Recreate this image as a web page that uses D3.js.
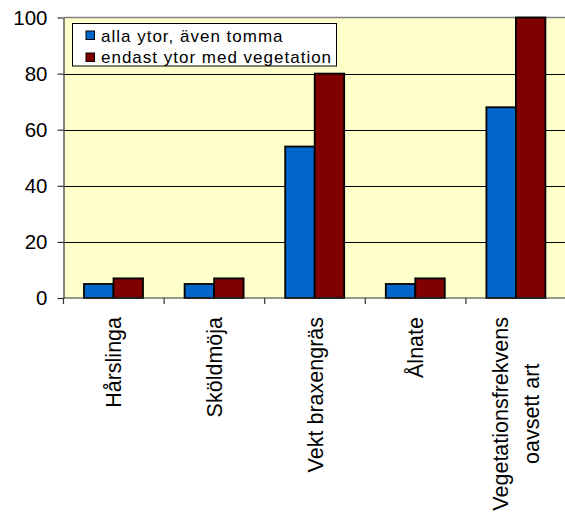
<!DOCTYPE html>
<html>
<head>
<meta charset="utf-8">
<script src="https://cdn.jsdelivr.net/npm/d3@7"></script>
<style>
  html, body { margin: 0; padding: 0; background: #ffffff; }
  svg { display: block; font-family: Arial, "Liberation Sans", sans-serif; }
</style>
</head>
<body>
<svg id="chart" width="565" height="519"></svg>
<script>
// ---- Data ----
const categories = [
  ["Hårslinga"],
  ["Sköldmöja"],
  ["Vekt braxengräs"],
  ["Ålnate"],
  ["Vegetationsfrekvens", "oavsett art"]
];
const seriesNames = ["alla ytor, även tomma", "endast ytor med vegetation"];
const allaYtor = [5, 5, 54, 5, 68];
const endastVeg = [7, 7, 80, 7, 100];
const yTicks = [0, 20, 40, 60, 80, 100];
const colors = ["#0066CC", "#800000"];

// ---- Layout ----
const svg = d3.select("#chart");
const pLeft = 63.5, pRight = 566.5, pTop = 17.5, pBottom = 298;

const catKeys = categories.map(c => c.join(" "));
const x0 = d3.scaleBand().domain(catKeys).range([pLeft, pRight]).padding(0);
const x1 = d3.scaleBand().domain(seriesNames).range([20.5, 79.5]).padding(0);
const y = d3.scaleLinear().domain([0, 100]).range([pBottom, pTop]);

// plot background
svg.append("rect")
  .attr("x", pLeft).attr("y", pTop)
  .attr("width", pRight - pLeft).attr("height", pBottom - pTop)
  .attr("fill", "#FFFFCC");

// gridlines
svg.append("g")
  .selectAll("line")
  .data(yTicks.filter(t => t > 0 && t < 100))
  .join("line")
  .attr("x1", pLeft).attr("x2", pRight)
  .attr("y1", d => Math.round(y(d)) + 0.5).attr("y2", d => Math.round(y(d)) + 0.5)
  .attr("stroke", "#000").attr("stroke-width", 1);

// top border
svg.append("line")
  .attr("x1", pLeft).attr("x2", pRight)
  .attr("y1", pTop).attr("y2", pTop)
  .attr("stroke", "#808080").attr("stroke-width", 1.5);

// bars
const rows = catKeys.map((k, i) => ({ key: k, values: [allaYtor[i], endastVeg[i]] }));
const groups = svg.append("g").selectAll("g")
  .data(rows).join("g")
  .attr("transform", d => `translate(${x0(d.key)},0)`);
groups.selectAll("rect")
  .data(d => d.values.map((v, j) => ({ name: seriesNames[j], v, j })))
  .join("rect")
  .attr("x", d => x1(d.name))
  .attr("width", x1.bandwidth())
  .attr("y", d => y(d.v))
  .attr("height", d => y(0) - y(d.v))
  .attr("fill", d => colors[d.j])
  .attr("stroke", "#000")
  .attr("stroke-width", 1.8);

// y axis
const yAxis = d3.axisLeft(y).tickValues(yTicks).tickSize(6).tickSizeOuter(0).tickPadding(10);
const gy = svg.append("g").attr("transform", `translate(${pLeft},0)`).call(yAxis);
gy.select(".domain").attr("stroke", "#333").attr("stroke-width", 1.2);
gy.selectAll(".tick line").attr("stroke", "#333").attr("stroke-width", 1.2);
gy.selectAll(".tick text")
  .attr("font-size", "20.5px").attr("fill", "#000")
  .attr("font-family", "Arial, 'Liberation Sans', sans-serif");

// x axis (baseline + ticks at band boundaries)
const gx = svg.append("g");
gx.append("line")
  .attr("x1", pLeft).attr("x2", pRight)
  .attr("y1", pBottom).attr("y2", pBottom)
  .attr("stroke", "#333").attr("stroke-width", 1.2);
const boundaries = catKeys.map(k => x0(k));
gx.selectAll("line.tk").data(boundaries).join("line")
  .attr("class", "tk")
  .attr("x1", d => d).attr("x2", d => d)
  .attr("y1", pBottom).attr("y2", pBottom + 6)
  .attr("stroke", "#333").attr("stroke-width", 1.2);

// x labels (rotated)
const labelTop = 317;
const lineGap = 31;
categories.forEach((lines, i) => {
  const cx = x0(catKeys[i]) + x0.bandwidth() / 2;
  const g = svg.append("g");
  const texts = lines.map((ln, j) => g.append("text")
    .text(ln)
    .attr("font-size", "21.5px")
    .attr("fill", "#000"));
  const maxLen = d3.max(texts, t => t.node().getComputedTextLength());
  const n = lines.length;
  texts.forEach((t, j) => {
    const bx = cx + (j - (n - 1) / 2) * lineGap;
    const by = labelTop + maxLen / 2;
    t.attr("text-anchor", "middle")
      .attr("dy", "0.35em")
      .attr("transform", `translate(${bx},${by}) rotate(-90)`);
  });
});

// legend
const lg = svg.append("g");
lg.append("rect")
  .attr("x", 72.5).attr("y", 23.5).attr("width", 264).attr("height", 42.5)
  .attr("fill", "#fff").attr("stroke", "#000").attr("stroke-width", 1);
seriesNames.forEach((name, i) => {
  const yy = 31 + i * 22;
  lg.append("rect")
    .attr("x", 86).attr("y", yy).attr("width", 8.5).attr("height", 8.5)
    .attr("fill", colors[i]).attr("stroke", "#000").attr("stroke-width", 1);
  lg.append("text")
    .attr("x", 101).attr("y", 41.7 + i * 21.6)
    .attr("font-size", "17px")
    .attr("letter-spacing", "1px")
    .attr("fill", "#000")
    .text(name);
});
</script>
</body>
</html>
